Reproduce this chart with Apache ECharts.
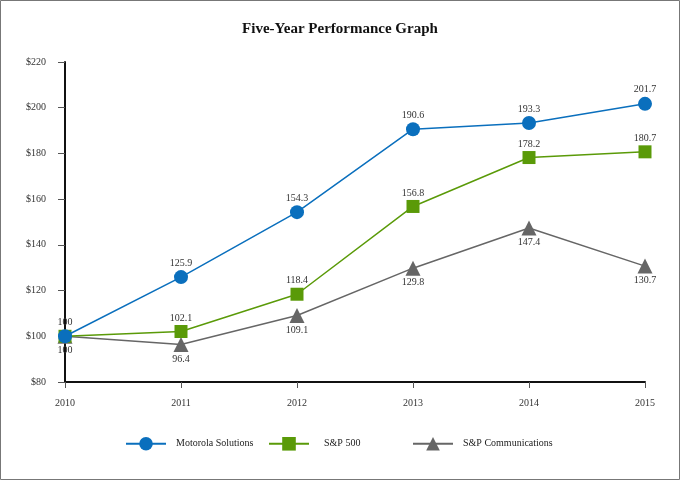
<!DOCTYPE html>
<html><head><meta charset="utf-8">
<script src="https://cdn.jsdelivr.net/npm/echarts@6/dist/echarts.min.js"></script>
<style>html,body{margin:0;padding:0;background:#fff}#c{width:680px;height:480px}</style>
</head><body><div id="c"></div>
<script>
const years = ['2010','2011','2012','2013','2014','2015'];
const motorola = [100, 125.9, 154.3, 190.6, 193.3, 201.7];
const sp500 = [100, 102.1, 118.4, 156.8, 178.2, 180.7];
const spComm = [100, 96.4, 109.1, 129.8, 147.4, 130.7];
const seriesNames = ['Motorola Solutions','S&P 500','S&P Communications'];

const font = '"Liberation Serif", "Times New Roman", serif';
const chart = echarts.init(document.getElementById('c'), null, {renderer:'canvas'});
function lbl(pos, showFirst){
  return {show:true, position:pos, distance:2, fontFamily:font, fontSize:10, color:'#333',
    formatter: p => (p.dataIndex===0 && !showFirst) ? '' : String(p.value)};
}
function leg(name, left, gap){
  return {data:[name], left:left, top:432, itemWidth:40, itemHeight:17, itemGap:0,
    textStyle:{fontFamily:font, fontSize:10, color:'#222', padding:[0,0,0,gap]}};
}
chart.setOption({
  animation:false,
  title:{text:'Five-Year Performance Graph', left:'center', top:17,
    textStyle:{fontFamily:font, fontSize:15, fontWeight:'bold', color:'#111'}},
  graphic:[{type:'rect', shape:{x:0.5,y:0.5,width:679,height:479}, style:{fill:'none', stroke:'#777', lineWidth:1}}],
  grid:{left:65, right:35, top:62, bottom:98},
  legend:[leg(seriesNames[0], 120, 5), leg(seriesNames[1], 263, 10), leg(seriesNames[2], 407, 5)],
  xAxis:{type:'category', data:years, boundaryGap:false,
    axisLine:{lineStyle:{color:'#111', width:2}},
    axisTick:{show:true, alignWithLabel:true, length:6, lineStyle:{color:'#555'}},
    axisLabel:{fontFamily:font, fontSize:10, color:'#333', margin:16}},
  yAxis:{type:'value', min:80, max:220, interval:20,
    axisLine:{show:true, lineStyle:{color:'#111', width:2}},
    axisTick:{show:true, length:7, lineStyle:{color:'#555'}},
    splitLine:{show:false},
    axisLabel:{fontFamily:font, fontSize:10, color:'#333', margin:19, formatter:v=>'$'+v}},
  series:[
    {name:seriesNames[2], type:'line', data:spComm, symbol:'triangle', symbolSize:15,
      itemStyle:{color:'#666666'}, lineStyle:{color:'#666666', width:1.5}, label:lbl('bottom', true), z:2},
    {name:seriesNames[1], type:'line', data:sp500, symbol:'rect', symbolSize:13,
      itemStyle:{color:'#5a9a08'}, lineStyle:{color:'#5a9a08', width:1.5}, label:lbl('top', false), z:3},
    {name:seriesNames[0], type:'line', data:motorola, symbol:'circle', symbolSize:14,
      itemStyle:{color:'#0a6fbd'}, lineStyle:{color:'#0a6fbd', width:1.5}, label:lbl('top', true), z:4}
  ]
});
</script></body></html>
